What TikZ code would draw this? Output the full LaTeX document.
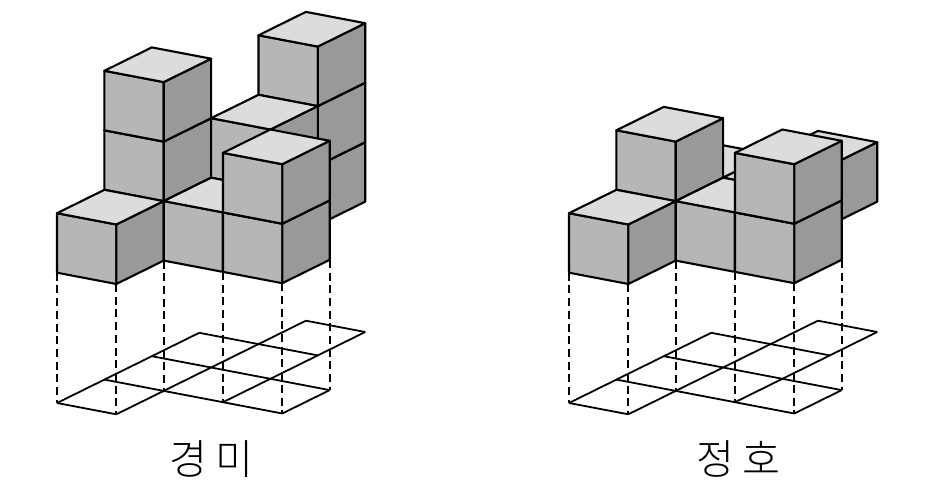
\documentclass[tikz,border=0pt]{standalone}
\usepackage{fontspec}
\newfontfamily\krfont{Noto Sans CJK KR Light}
\usetikzlibrary{calc}
\definecolor{topgray}{HTML}{DCDCDC}
\definecolor{frontgray}{HTML}{B6B6B6}
\definecolor{sidegray}{HTML}{999999}
\tikzset{
	edge/.style={line width=0.042cm, line join=round},
	guide/.style={line width=0.04cm, dash pattern=on 0.16cm off 0.094cm},
	planline/.style={line width=0.036cm, line join=round},
	namelabel/.style={font=\krfont\fontsize{23.5}{24}\selectfont},
	axes/.style={x={(1.186cm, -0.226cm)}, y={(0.948cm, 0.468cm)}, z={(0cm, 1.19cm)}}
}
\def\cube(#1,#2,#3){
	\filldraw[edge, fill=frontgray] (#1,#2,#3) -- (#1+1,#2,#3) -- (#1+1,#2,#3+1) -- (#1,#2,#3+1) -- cycle;
	\filldraw[edge, fill=sidegray] (#1+1,#2,#3) -- (#1+1,#2+1,#3) -- (#1+1,#2+1,#3+1) -- (#1+1,#2,#3+1) -- cycle;
	\filldraw[edge, fill=topgray] (#1,#2,#3+1) -- (#1+1,#2,#3+1) -- (#1+1,#2+1,#3+1) -- (#1,#2+1,#3+1) -- cycle;
}
\def\blocks#1{
	% floor plan
	\foreach \j/\from/\to in {0/0/1, 1/0/3, 2/0/3, 3/0/2, 4/1/2}
		\draw[planline] (\from,\j,-2.19) -- (\to,\j,-2.19);
	\foreach \i/\from/\to in {0/0/3, 1/0/4, 2/1/4, 3/1/2}
		\draw[planline] (\i,\from,-2.19) -- (\i,\to,-2.19);
	\foreach \i/\j in {0/0, 1/0, 1/1, 2/1, 3/1, 3/2}
		\draw[guide] (\i,\j,0) -- (\i,\j,-2.19);
	% stacks, back to front
	\foreach \i/\j/\h in {#1}
		\foreach \k in {1,...,\h}
			\cube(\i,\j,\k-1);
}

\begin{document}
\begin{tikzpicture}
		%%%%% START %%%%%
		\useasboundingbox (0, 0) rectangle (18.6, 9.84);
		
		\begin{scope}[shift={(1.14, 4.386)}, axes]
			\blocks{0/2/1, 0/1/3, 0/0/1, 1/3/3, 1/2/2, 1/1/1, 2/1/2}
		\end{scope}
		
		\begin{scope}[shift={(11.38, 4.386)}, axes]
			\blocks{0/2/1, 0/1/2, 0/0/1, 1/3/1, 1/2/1, 1/1/1, 2/1/2}
		\end{scope}
		
		\node[namelabel] (kyeongmi) at (4.23, 0.66) {경\hspace{0.2em}미};
		\node[namelabel] (jeongho) at (14.77, 0.66) {정\hspace{0.2em}호};
		
		%%%%% END %%%%%
	\end{tikzpicture}
\end{document}
